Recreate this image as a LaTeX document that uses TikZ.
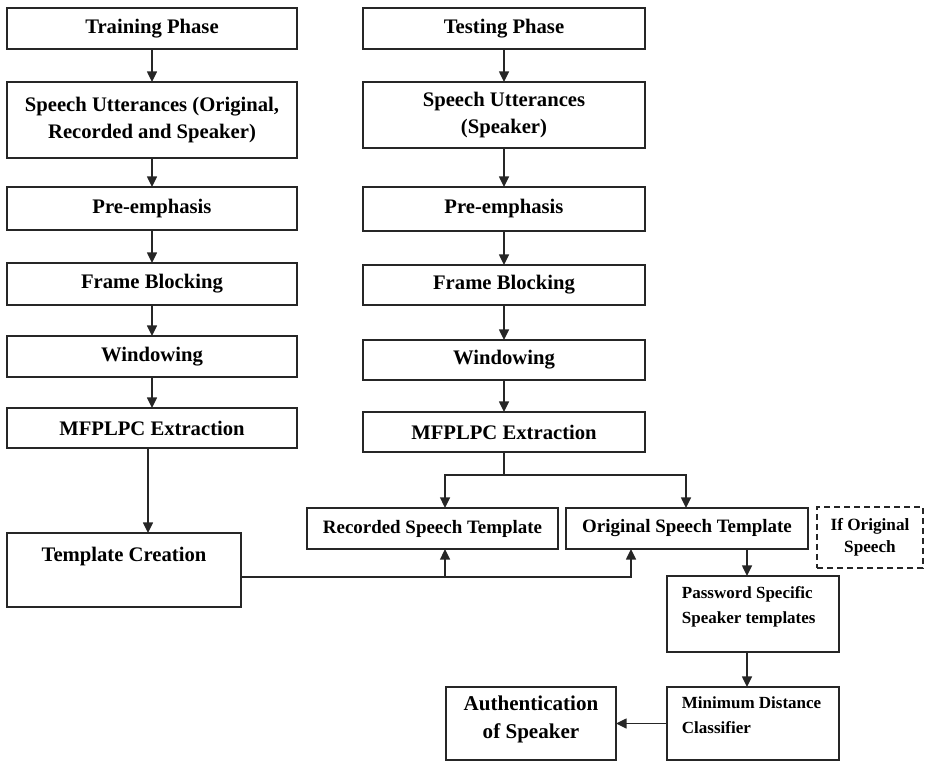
\documentclass[tikz,border=0pt]{standalone}
\usepackage{fontspec}
\setmainfont{Liberation Serif}
\usetikzlibrary{arrows.meta,calc}
\begin{document}
\begin{tikzpicture}[x=0.75pt,y=-0.75pt,
  sz/.style 2 args={minimum width=#1*0.75pt,minimum height=#2*0.75pt},
  box/.style={draw=black!85, line width=1.2pt, inner sep=0pt, outer sep=0pt, align=center,
    font=\bfseries\fontsize{15.5}{20.25}\selectfont},
  smallone/.style={font=\bfseries\fontsize{14.2}{18}\selectfont},
  smalltwo/.style={font=\bfseries\fontsize{12.9}{16.5}\selectfont},
  txt/.style={inner sep=0pt, align=center, font=\bfseries\fontsize{15.5}{20.25}\selectfont},
  txtauth/.style={inner sep=0pt, align=center, font=\bfseries\fontsize{15.8}{21}\selectfont},
  txtleft/.style={inner sep=0pt, align=left, anchor=north west, font=\bfseries\fontsize{12.75}{18.75}\selectfont},
  arr/.style={draw=black!85, line width=1.1pt, -{Triangle[length=8pt,width=7.5pt]}},
  ln/.style={draw=black!85, line width=1.1pt},
  dsh/.style={dash pattern=on 4.5pt off 3pt}]
\useasboundingbox (0,0) rectangle (925,762);

% Training column
\node[box, sz={290}{41}] (train) at (152,28.5) {Training Phase};
\node[box, sz={290}{76}] (su1) at (152,120) {Speech Utterances (Original,\\Recorded and Speaker)};
\node[box, sz={290}{43}] (pe1) at (152,208.5) {Pre-emphasis};
\node[box, sz={290}{42}] (fb1) at (152,284) {Frame Blocking};
\node[box, sz={290}{41}] (w1) at (152,356.5) {Windowing};
\node[box, sz={290}{40}] (mf1) at (152,428) {MFPLPC Extraction};
\node[box, sz={234}{74}] (tc) at (124,570) {};
\node[txt] (tct) at ([yshift=-18pt]tc.north) {Template Creation};

% Testing column
\node[box, sz={282}{41}] (test) at (504,28.5) {Testing Phase};
\node[box, sz={282}{66}] (su2) at (504,115) {Speech Utterances\\(Speaker)};
\node[box, sz={282}{44}] (pe2) at (504,209) {Pre-emphasis};
\node[box, sz={282}{40}] (fb2) at (504,285) {Frame Blocking};
\node[box, sz={282}{40}] (w2) at (504,360) {Windowing};
\node[box, sz={282}{40}] (mf2) at (504,432) {MFPLPC Extraction};

% Templates
\node[box, smallone, sz={251}{41}] (rst) at (432.5,528.5) {Recorded Speech Template};
\node[box, smallone, sz={242}{41}] (ost) at (687,528.5) {Original Speech Template};
\node[box, smalltwo, dsh, sz={106}{61}] (iforig) at (870,537.5) {If Original\\Speech};

% Lower chain
\node[box, sz={172}{76}] (pss) at (753,614) {};
\node[txtleft] (psst) at ([xshift=11pt,yshift=-8pt]pss.north west) {Password Specific\\Speaker templates};
\node[box, sz={172}{73}] (mdc) at (753,723.5) {};
\node[txtleft] (mdct) at ([xshift=11pt,yshift=-7pt]mdc.north west) {Minimum Distance\\Classifier};
\node[box, sz={170}{73}] (auth) at (531,723.5) {};
\node[txtauth] (autht) at ([yshift=3.4pt]auth.center) {Authentication\\of Speaker};

% Connectors: training
\draw[arr] (train.south) -- (su1.north);
\draw[arr] (su1.south) -- (pe1.north);
\draw[arr] (pe1.south) -- (fb1.north);
\draw[arr] (fb1.south) -- (w1.north);
\draw[arr] (w1.south) -- (mf1.north);
\draw[arr] ([xshift=-3pt]mf1.south) -- ([xshift=-3pt]mf1.south |- tc.north);

% Connectors: testing
\draw[arr] (test.south) -- (su2.north);
\draw[arr] (su2.south) -- (pe2.north);
\draw[arr] (pe2.south) -- (fb2.north);
\draw[arr] (fb2.south) -- (w2.north);
\draw[arr] (w2.south) -- (mf2.north);
\draw[ln] (mf2.south) -- ++(0,23) coordinate (sp);
\draw[arr] (sp) -| ([xshift=9.4pt]rst.north);
\draw[arr] (sp) -| ([xshift=-0.75pt]ost.north);

% Template creation to templates
\coordinate (tco) at ([yshift=-5.25pt]tc.east);
\draw[arr] (tco) -| ([xshift=-42pt]ost.south);
\draw[arr] ([xshift=9.4pt]rst.south |- tco) -- ([xshift=9.4pt]rst.south);

% Lower chain
\draw[arr] ([xshift=45pt]ost.south) -- ([xshift=45pt]ost.south |- pss.north);
\draw[arr] ([xshift=-4.5pt]pss.south) -- ([xshift=-4.5pt]mdc.north);
\draw[arr] (mdc.west) -- (auth.east);
\end{tikzpicture}
\end{document}
